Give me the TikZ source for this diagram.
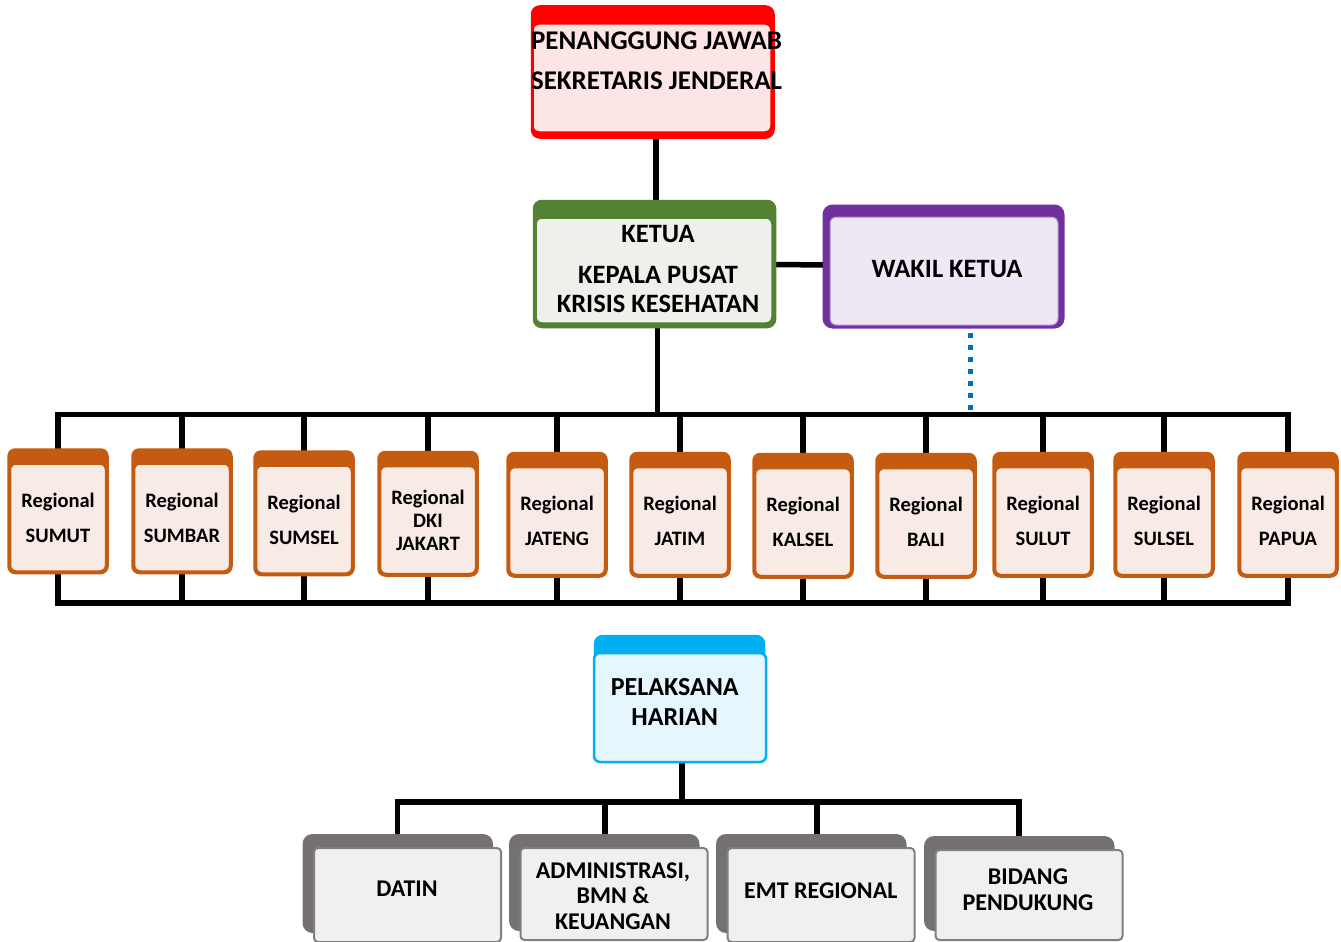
\documentclass[tikz,border=0pt]{standalone}
\usepackage{fontspec}
\setmainfont{Carlito}
\usetikzlibrary{backgrounds}
\definecolor{redD}{HTML}{FF0000}
\definecolor{redL}{HTML}{FDE5E5}
\definecolor{grnD}{HTML}{548235}
\definecolor{grnL}{HTML}{EEF1EB}
\definecolor{purD}{HTML}{7030A0}
\definecolor{purL}{HTML}{EEE8F4}
\definecolor{orgD}{HTML}{C55A11}
\definecolor{orgL}{HTML}{F8EBE5}
\definecolor{bluD}{HTML}{00B0F0}
\definecolor{bluL}{HTML}{E5F6FD}
\definecolor{gryD}{HTML}{767171}
\definecolor{gryL}{HTML}{F0F0F0}
\definecolor{gryB}{HTML}{808080}
\definecolor{dotB}{HTML}{0070C0}
\newcommand\fsz[2]{\fontsize{#1}{#2}\selectfont\bfseries}
\newcommand\backfill[6]{\fill[#2] ([shift={(#3pt,#4pt)}]#1.north west) rectangle ([shift={(#5pt,#6pt)}]#1.south east);}
\tikzset{
  conn/.style={line width=5.5pt, draw=black},
  dotline/.style={line width=5.5pt, draw=dotB, dash pattern=on 5.5pt off 6.5pt},
  front/.style={rounded corners=6pt, inner sep=0pt, align=center},
  redF/.style={front, draw=redD, line width=1.5pt, fill=redL},
  grnF/.style={front, draw=grnD, line width=1.5pt, fill=grnL},
  purF/.style={front, draw=purD!60, line width=1pt, fill=purL},
  bluF/.style={front, draw=bluD, line width=2.5pt, fill=bluL},
  gryF/.style={front, rounded corners=4pt, draw=gryB, line width=2pt, fill=gryL, minimum width=187pt},
  rbox/.style={front, draw=orgD, line width=2.5pt, fill=orgL, minimum width=96pt, minimum height=108pt, font=\fsz{20.5}{24}},
  txt/.style={anchor=base, align=center, inner sep=0pt},
}
\begin{document}
\begin{tikzpicture}[x=1pt,y=-1pt]
\useasboundingbox (0,0) rectangle (1341,942);
% front boxes
\node[redF, minimum width=238pt, minimum height=108pt] (top) at (652,78) {};
\node[grnF, minimum width=236pt, minimum height=105pt] (ketua) at (654,270.5) {};
\node[purF, minimum width=228pt, minimum height=108pt] (wakil) at (944,271) {};
\node[rbox] (sumut) at (58,517.5) {Regional\\[11pt]SUMUT};
\node[rbox] (sumbar) at (182,517.5) {Regional\\[11pt]SUMBAR};
\node[rbox] (sumsel) at (304,519.5) {Regional\\[11pt]SUMSEL};
\node[rbox, font=\fsz{20.5}{23}] (dki) at (428,520) {Regional\\DKI\\JAKART};
\node[rbox] (jateng) at (557,521) {Regional\\[11pt]JATENG};
\node[rbox] (jatim) at (680,521) {Regional\\[11pt]JATIM};
\node[rbox] (kalsel) at (803,522) {Regional\\[11pt]KALSEL};
\node[rbox] (bali) at (926,522) {Regional\\[11pt]BALI};
\node[rbox] (sulut) at (1043,521) {Regional\\[11pt]SULUT};
\node[rbox] (sulsel) at (1164,521) {Regional\\[11pt]SULSEL};
\node[rbox] (papua) at (1288,521) {Regional\\[11pt]PAPUA};
\node[bluF, minimum width=172pt, minimum height=109pt] (pelaksana) at (680,707.5) {};
\node[gryF, minimum height=94pt] (datin) at (407.5,895) {};
\node[gryF, minimum height=92pt] (admin) at (614,894) {};
\node[gryF, minimum height=94pt] (emt) at (821,895) {};
\node[gryF, minimum height=90pt] (bidang) at (1029,895) {};
% texts (base anchor = baseline of the last line)
\node[txt, font=\fsz{27}{40}] (top-t) at (656.5,89.5) {PENANGGUNG JAWAB\\SEKRETARIS JENDERAL};
\node[txt, font=\fsz{26.5}{29}] (ketua-t) at (658,312.5) {KETUA\\[12pt]KEPALA PUSAT\\KRISIS KESEHATAN};
\node[txt, font=\fsz{26.5}{29}] (wakil-t) at (947,277) {WAKIL KETUA};
\node[txt, font=\fsz{26}{29.3}] (pelaksana-t) at (674.7,725) {PELAKSANA\\HARIAN};
\node[txt, font=\fsz{24}{25.5}] (datin-t) at (407,896) {DATIN};
\node[txt, font=\fsz{24}{25.5}] (admin-t) at (613,929) {ADMINISTRASI,\\BMN \&\\KEUANGAN};
\node[txt, font=\fsz{24}{25.5}] (emt-t) at (820.8,898.3) {EMT REGIONAL};
\node[txt, font=\fsz{24}{25.5}] (bidang-t) at (1028,910) {BIDANG\\PENDUKUNG};
\coordinate (busT) at (0,414.5);
\coordinate (busB) at (0,603);
\coordinate (busP) at (0,802);
\coordinate (dotEnd) at (970.5,410);
\begin{scope}[on background layer]
% connectors
\draw[conn] ([xshift=2pt]ketua.north) -- ([xshift=2pt]ketua.north |- top.south);
\draw[conn] ([yshift=6pt]ketua.east) -- ([yshift=6pt]wakil.west);
\draw[conn] ([xshift=3.5pt]ketua.south) -- ([xshift=3.5pt]ketua.south |- busT);
\draw[dotline] ([xshift=26.5pt,yshift=-7pt]wakil.south) -- (dotEnd);
\draw[conn] (sumut.north) |- (busT -| papua.north) -- (papua.north);
\draw[conn] (sumut.south) |- (busB -| papua.south) -- (papua.south);
\foreach \r in {sumbar,sumsel,dki,jateng,jatim,kalsel,bali,sulut,sulsel}{
  \draw[conn] (\r.north) -- (\r.north |- busT);
  \draw[conn] (\r.south) -- (\r.south |- busB);
}
\draw[conn] ([xshift=2pt]pelaksana.south) -- ([xshift=2pt]pelaksana.south |- busP);
\draw[conn] ([xshift=-10pt]datin.north) |- ([xshift=-10pt]bidang.north |- busP) -- ([xshift=-10pt]bidang.north);
\draw[conn] ([xshift=-9pt]admin.north) -- ([xshift=-9pt]admin.north |- busP);
\draw[conn] ([xshift=-4pt]emt.north) -- ([xshift=-4pt]emt.north |- busP);
% header / shadow backs
\backfill{top}{redD, rounded corners=9pt}{-1.5}{18}{3}{-6}
\backfill{ketua}{grnD, rounded corners=9pt}{-2.5}{17.5}{3.5}{-4.5}
\backfill{wakil}{purD, rounded corners=10pt}{-7}{12}{6}{-3}
\foreach \r in {sumut,sumbar,sumsel,dki,jateng,jatim,kalsel,bali,sulut,sulsel,papua}{
  \backfill{\r}{orgD, rounded corners=8pt}{-1.5}{14}{1.5}{-1.5}
}
\backfill{pelaksana}{bluD, rounded corners=9pt}{1}{17}{-2}{4}
\foreach \r in {datin,admin,emt,bidang}{
  \backfill{\r}{gryD, rounded corners=10pt}{-10.5}{13}{-9}{10}
}
\end{scope}
\end{tikzpicture}
\end{document}
